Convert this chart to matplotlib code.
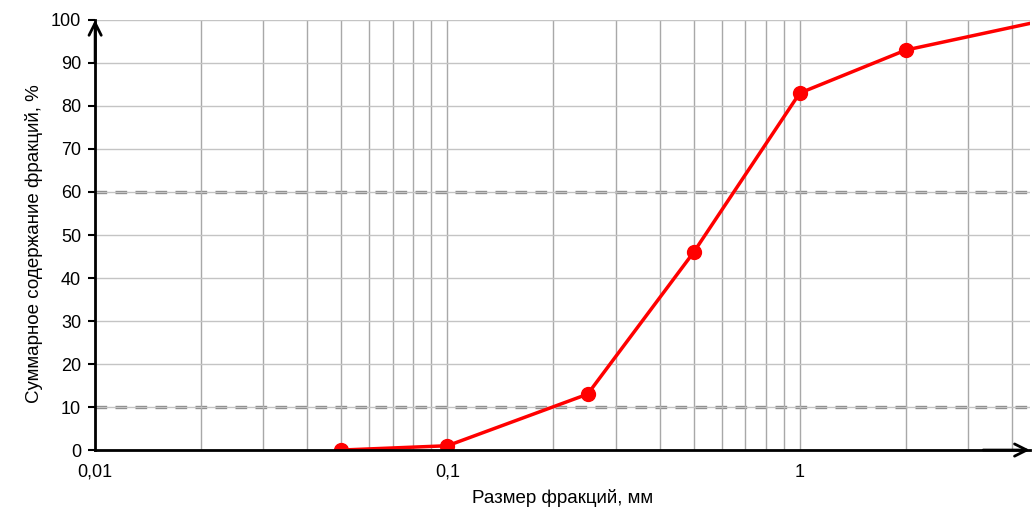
"""Grain size distribution curve."""

import matplotlib

matplotlib.use("Agg")
import matplotlib.pyplot as plt
import numpy as np
from matplotlib.ticker import FixedLocator, LogLocator, NullFormatter

plt.rcParams["font.family"] = ["Liberation Sans", "DejaVu Sans"]

size_mm = [0.05, 0.1, 0.25, 0.5, 1.0, 2.0, 5.0]
passing = [0, 1, 13, 46, 83, 93, 100]
x_ticks = [0.01, 0.1, 1]
x_tick_labels = ["0,01", "0,1", "1"]
dashed_levels = [10, 60]

fig = plt.figure(figsize=(10.34, 5.12), dpi=100)
ax = fig.add_axes([0.092, 0.121, 0.904, 0.84])

ax.set_xscale("log")
ax.set_xlim(0.01, 4.5)
ax.set_ylim(0, 100)

# grid
ax.xaxis.set_minor_locator(LogLocator(base=10, subs=np.arange(2, 10)))
ax.xaxis.set_minor_formatter(NullFormatter())
ax.grid(True, which="both", axis="x", color="#a8a8a8", lw=1)
ax.grid(True, which="major", axis="y", color="#c4c4c4", lw=1)
for lvl in dashed_levels:
    ax.axhline(lvl, color="#858585", lw=2.4, ls=(0, (3.5, 2.5)), zorder=1.5)

ax.plot(size_mm, passing, color="#ff0000", lw=2.5, marker="o", ms=10,
        zorder=3, clip_on=True)

ax.xaxis.set_major_locator(FixedLocator(x_ticks))
ax.set_xticklabels(x_tick_labels)
ax.set_yticks(np.arange(0, 101, 10))
ax.tick_params(axis="x", which="both", length=0, labelsize=13, pad=10)
ax.tick_params(axis="y", length=5, width=1.5, labelsize=13, pad=5)

for side in ("top", "right"):
    ax.spines[side].set_visible(False)
for side in ("left", "bottom"):
    ax.spines[side].set_linewidth(2)
    ax.spines[side].set_zorder(4)

ax.annotate("", xy=(0, 1.0), xytext=(0, 0.9), xycoords="axes fraction",
            arrowprops=dict(arrowstyle="->", lw=2, mutation_scale=22, shrinkA=0, shrinkB=0))
ax.annotate("", xy=(1.0, 0), xytext=(0.95, 0), xycoords="axes fraction",
            arrowprops=dict(arrowstyle="->", lw=2, mutation_scale=22, shrinkA=0, shrinkB=0),
            annotation_clip=False)

ax.set_xlabel("Размер фракций, мм", fontsize=13.5, labelpad=6)
ax.set_ylabel("Суммарное содержание фракций, %", fontsize=13.5, labelpad=6)
ax.yaxis.label.set_y(0.48)

fig.savefig("out.png", dpi=100)
plt.close()
